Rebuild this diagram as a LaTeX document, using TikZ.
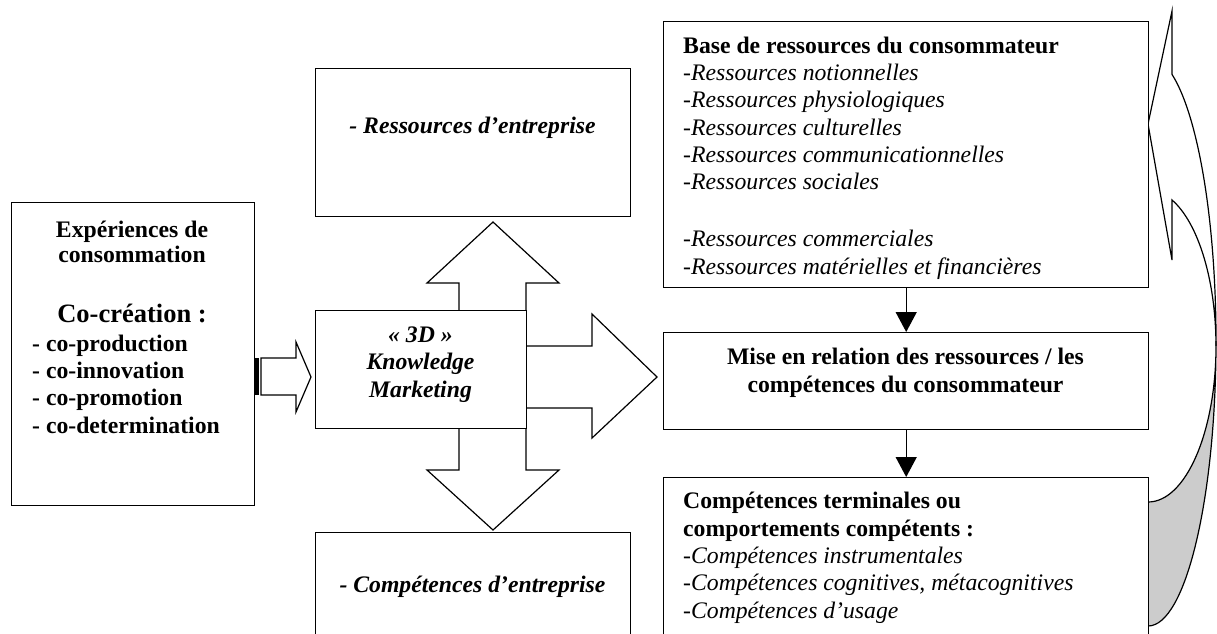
\documentclass[tikz,border=0pt]{standalone}
\usepackage{fontspec}
\setmainfont{Liberation Serif}
\usetikzlibrary{arrows.meta}
\begin{document}
\begin{tikzpicture}[x=1pt,y=-1pt,
  box/.style={draw, line width=1.4pt, fill=white, inner sep=0pt, anchor=north west},
  blk/.style={draw, line width=1.2pt, fill=white, line join=miter},
  conn/.style={line width=1.4pt, -{Triangle[width=21pt,length=20pt]}},
  reg/.style={inner sep=0pt, font=\fontsize{23.7}{27.3}\selectfont},
  bld/.style={inner sep=0pt, font=\fontsize{23.7}{27.3}\selectfont\bfseries},
  bit/.style={inner sep=0pt, font=\fontsize{23.7}{27.5}\selectfont\bfseries\itshape}
]
\useasboundingbox (0,0) rectangle (1217,633);
\clip (0,0) rectangle (1217,633);

% block arrows around the central box
\filldraw[blk] (459,310) -- (459,283) -- (427,283) -- (493,222) -- (559,283) -- (526,283) -- (526,310);
\filldraw[blk] (459,428) -- (459,470) -- (427,470) -- (493,530) -- (559,470) -- (526,470) -- (526,428);
\filldraw[blk] (526,346) -- (592,346) -- (592,314) -- (657,377) -- (592,438) -- (592,408) -- (526,408);
% striped arrow
\fill[black] (254,358) rectangle (258.5,395);
\filldraw[blk] (261,358) -- (296,358) -- (296,342) -- (311,377) -- (296,412) -- (296,395) -- (261,395) -- cycle;

% curved arrow (back face then front face)
\filldraw[line width=1.2pt, fill=gray!40] (1216,346) arc[start angle=0, end angle=-90, x radius=68pt, y radius=156pt]
  -- (1148,626) arc[start angle=-90, end angle=0, x radius=68pt, y radius=285pt] -- cycle;
\filldraw[line width=1.2pt, fill=white, line join=miter] (1172,74) -- (1172,11) -- (1148,124) -- (1172,260) -- (1172,200)
  arc[start angle=69.3, end angle=0, x radius=68pt, y radius=156pt]
  -- (1216,341) arc[start angle=0, end angle=69.3, x radius=68pt, y radius=285pt] -- cycle;

% boxes
\node[box, minimum width=243pt, minimum height=303pt] (left) at (11,202) {};
\node[box, minimum width=211pt, minimum height=118pt] (km) at (315,310) {};
\node[box, minimum width=315pt, minimum height=148pt] (topb) at (315,68) {};
\node[box, minimum width=315pt, minimum height=140pt] (botb) at (315,532) {};
\node[box, minimum width=485pt, minimum height=266pt] (tr) at (663,21) {};
\node[box, minimum width=485pt, minimum height=97pt] (mid) at (663,332) {};
\node[box, minimum width=485pt, minimum height=200pt] (br) at (663,477) {};

% connectors
\draw[conn] (tr.south) -- (mid.north);
\draw[conn] (mid.south) -- (br.north);

% texts (base anchor = baseline of the last line)
\node[inner sep=0pt, font=\fontsize{23.7}{25}\selectfont\bfseries, align=center, anchor=base] (t1) at (132,262) {Expériences de\\consommation};
\node[inner sep=0pt, font=\fontsize{26.5}{30}\selectfont\bfseries, anchor=base] (t2) at (132,322) {Co-création :};
\node[bld, align=left, anchor=base west] (t3) at (32,433) {- co-production\\- co-innovation\\- co-promotion\\- co-determination};
\node[bit, align=center, anchor=base] (t4) at (420.5,397) {« 3D »\\Knowledge\\Marketing};
\node[bit, anchor=base] (t5) at (472.5,133) {- Ressources d’entreprise};
\node[bit, anchor=base] (t6) at (472.5,592) {- Compétences d’entreprise};
\node[reg, align=left, anchor=base west] (t7) at (683,274) {\textbf{Base de ressources du consommateur}\\
-\textit{Ressources notionnelles}\\
-\textit{Ressources physiologiques}\\
-\textit{Ressources culturelles}\\
-\textit{Ressources communicationnelles}\\
-\textit{Ressources sociales}\\[29.7pt]
-\textit{Ressources commerciales}\\
-\textit{Ressources matérielles et financières}};
\node[bld, align=center, anchor=base] (t8) at (905.5,392) {Mise en relation des ressources / les\\compétences du consommateur};
\node[reg, align=left, anchor=base west] (t9) at (683,618) {\textbf{Compétences terminales ou}\\
\textbf{comportements compétents :}\\
-\textit{Compétences instrumentales}\\
-\textit{Compétences cognitives, métacognitives}\\
-\textit{Compétences d’usage}};
\end{tikzpicture}
\end{document}
